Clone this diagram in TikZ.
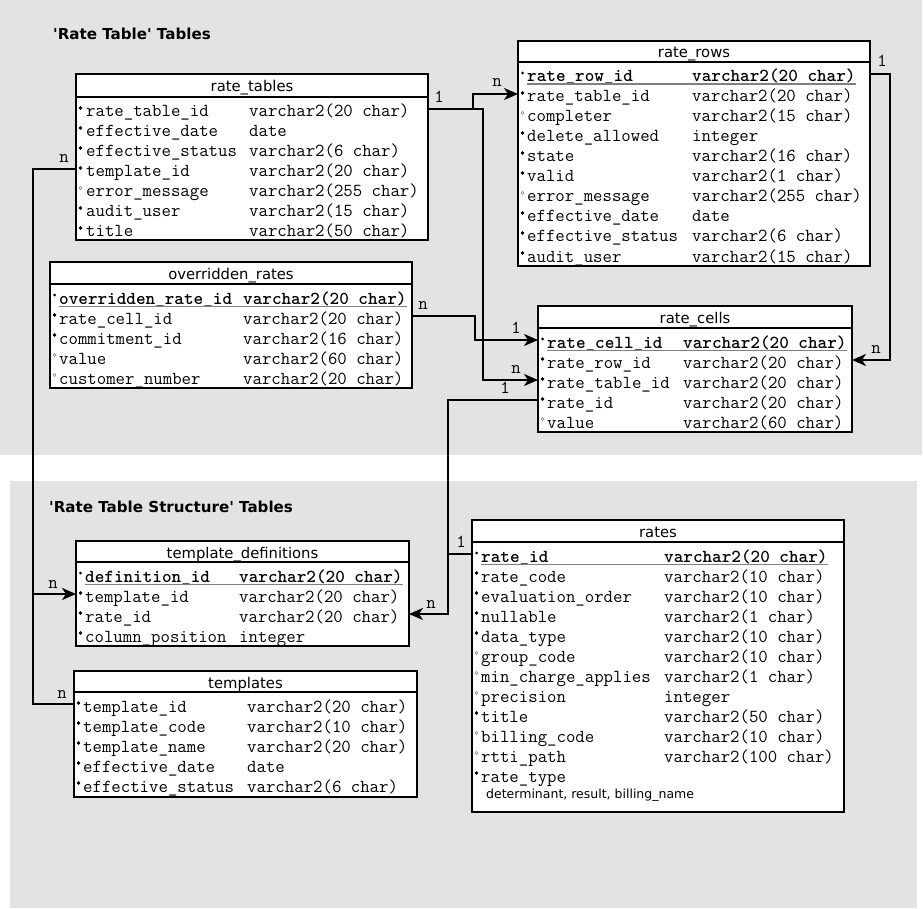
\documentclass[tikz,border=0pt]{standalone}
\usepackage{fontspec}
\setmainfont{DejaVu Sans}
\usepackage{tikz}
\usetikzlibrary{arrows.meta,positioning}
\definecolor{panelgray}{RGB}{227,227,227}
\newcommand{\fieldfont}{\fontsize{18.3}{20}\selectfont\ttfamily}

\begin{document}
\begin{tikzpicture}[x=1pt,y=-1pt]
\tikzset{
    tblhead/.style={draw, line width=1.8pt, fill=white, anchor=north west,
                    inner sep=0pt, outer sep=0pt, font=\fontsize{14.8}{16}\selectfont,
                    text height=13pt, text depth=0pt},
    tblbody/.style={draw, line width=1.8pt, fill=white, anchor=north west,
                    inner sep=0pt, outer sep=0pt},
    fld/.style={anchor=west, inner sep=0pt, text height=18pt, text depth=2pt,
                font=\fieldfont},
    keyfld/.style={fld, font=\fieldfont\bfseries},
    keyline/.style={draw=black!50, line width=1.4pt},
    dot/.style={circle, inner sep=0pt, minimum size=3pt, line width=0.5pt},
    heading/.style={anchor=base west, inner sep=0pt,
                    font=\fontsize{15.1}{18}\selectfont\bfseries},
    note/.style={anchor=base west, inner sep=0pt, font=\fontsize{12.5}{14}\selectfont},
    conn/.style={line width=2pt},
    arr/.style={-{Stealth[length=14pt,width=12pt,inset=4pt]}},
    card/.style={anchor=base, inner sep=0pt, font=\fieldfont}
}
\useasboundingbox (0,0) rectangle (923,909);

% panels
\fill[panelgray] (0,0) rectangle (922,455);
\fill[panelgray] (10,481) rectangle (917,908);
\node[heading] (hd1) at (53,40) {\textquotesingle Rate Table\textquotesingle{} Tables};
\node[heading] (hd2) at (49,512) {\textquotesingle Rate Table Structure\textquotesingle{} Tables};

% rate_tables
\node[tblhead, minimum width=352, minimum height=23] (rtab) at (76,74) {rate\_tables};
\node[tblbody, minimum width=352, minimum height=143] (rtab-b) at (rtab.south west) {};
\foreach \f/\t/\m [count=\i] in {rate\_table\_id/varchar2(20 char)/black,
    effective\_date/date/black, effective\_status/varchar2(6 char)/black,
    template\_id/varchar2(20 char)/black, error\_message/varchar2(255 char)/white,
    audit\_user/varchar2(15 char)/black, title/varchar2(50 char)/black}{
  \node[dot, fill=\m, draw=\m!50!black] (rtab\i-d) at (80.5,88+20*\i) {};
  \node[fld] (rtab\i) at (86,89+20*\i) {\f};
  \node[fld] (rtab\i-t) at (249,89+20*\i) {\t};
}

% rate_rows
\node[tblhead, minimum width=352, minimum height=21] (rrow) at (518,41) {rate\_rows};
\node[tblbody, minimum width=352, minimum height=204] (rrow-b) at (rrow.south west) {};
\node[dot, fill=black] (rrow1-d) at (522.5,73) {};
\node[keyfld] (rrow1) at (527,74) {rate\_row\_id};
\node[keyfld] (rrow1-t) at (692,74) {varchar2(20 char)};
\draw[keyline] (rrow1.south west) -- (rrow1-t.south east);
\foreach \f/\t/\m [count=\i from 2] in {rate\_table\_id/varchar2(20 char)/black,
    completer/varchar2(15 char)/white, delete\_allowed/integer/black,
    state/varchar2(16 char)/black, valid/varchar2(1 char)/black,
    error\_message/varchar2(255 char)/white, effective\_date/date/black,
    effective\_status/varchar2(6 char)/black, audit\_user/varchar2(15 char)/black}{
  \node[dot, fill=\m, draw=\m!50!black] (rrow\i-d) at (522.5,53+20*\i) {};
  \node[fld] (rrow\i) at (527,54+20*\i) {\f};
  \node[fld] (rrow\i-t) at (692,54+20*\i) {\t};
}

% overridden_rates
\node[tblhead, minimum width=362, minimum height=22] (orate) at (50,262) {overridden\_rates};
\node[tblbody, minimum width=362, minimum height=104] (orate-b) at (orate.south west) {};
\node[dot, fill=black] (orate1-d) at (54.5,295) {};
\node[keyfld] (orate1) at (59,296) {overridden\_rate\_id};
\node[keyfld] (orate1-t) at (243,296) {varchar2(20 char)};
\draw[keyline] (orate1.south west) -- (orate1-t.south east);
\foreach \f/\t/\m [count=\i from 2] in {rate\_cell\_id/varchar2(20 char)/black,
    commitment\_id/varchar2(16 char)/black, value/varchar2(60 char)/white,
    customer\_number/varchar2(20 char)/white}{
  \node[dot, fill=\m, draw=\m!50!black] (orate\i-d) at (54.5,275+20*\i) {};
  \node[fld] (orate\i) at (59,276+20*\i) {\f};
  \node[fld] (orate\i-t) at (243,276+20*\i) {\t};
}

% rate_cells
\node[tblhead, minimum width=314, minimum height=22] (rcell) at (538,306) {rate\_cells};
\node[tblbody, minimum width=314, minimum height=104] (rcell-b) at (rcell.south west) {};
\node[dot, fill=black] (rcell1-d) at (542.5,339) {};
\node[keyfld] (rcell1) at (547,340) {rate\_cell\_id};
\node[keyfld] (rcell1-t) at (683,340) {varchar2(20 char)};
\draw[keyline] (rcell1.south west) -- (rcell1-t.south east);
\foreach \f/\t/\m [count=\i from 2] in {rate\_row\_id/varchar2(20 char)/black,
    rate\_table\_id/varchar2(20 char)/black, rate\_id/varchar2(20 char)/black,
    value/varchar2(60 char)/white}{
  \node[dot, fill=\m, draw=\m!50!black] (rcell\i-d) at (542.5,319+20*\i) {};
  \node[fld] (rcell\i) at (547,320+20*\i) {\f};
  \node[fld] (rcell\i-t) at (683,320+20*\i) {\t};
}

% template_definitions
\node[tblhead, minimum width=333, minimum height=21] (tdef) at (76,541) {template\_definitions};
\node[tblbody, minimum width=333, minimum height=84] (tdef-b) at (tdef.south west) {};
\node[dot, fill=black] (tdef1-d) at (80.5,573) {};
\node[keyfld] (tdef1) at (85,574) {definition\_id};
\node[keyfld] (tdef1-t) at (239,574) {varchar2(20 char)};
\draw[keyline] (tdef1.south west) -- (tdef1-t.south east);
\foreach \f/\t/\m [count=\i from 2] in {template\_id/varchar2(20 char)/black,
    rate\_id/varchar2(20 char)/black, column\_position/integer/black}{
  \node[dot, fill=\m, draw=\m!50!black] (tdef\i-d) at (80.5,553+20*\i) {};
  \node[fld] (tdef\i) at (85,554+20*\i) {\f};
  \node[fld] (tdef\i-t) at (239,554+20*\i) {\t};
}

% templates
\node[tblhead, minimum width=343, minimum height=21] (tmpl) at (74,671) {templates};
\node[tblbody, minimum width=343, minimum height=105] (tmpl-b) at (tmpl.south west) {};
\foreach \f/\t/\m [count=\i] in {template\_id/varchar2(20 char)/black,
    template\_code/varchar2(10 char)/black, template\_name/varchar2(20 char)/black,
    effective\_date/date/black, effective\_status/varchar2(6 char)/black}{
  \node[dot, fill=\m, draw=\m!50!black] (tmpl\i-d) at (78.5,683+20*\i) {};
  \node[fld] (tmpl\i) at (83,684+20*\i) {\f};
  \node[fld] (tmpl\i-t) at (247,684+20*\i) {\t};
}

% rates
\node[tblhead, minimum width=372, minimum height=22] (rate) at (472,520) {rates};
\node[tblbody, minimum width=372, minimum height=270] (rate-b) at (rate.south west) {};
\node[dot, fill=black] (rate1-d) at (476.5,553) {};
\node[keyfld] (rate1) at (481,554) {rate\_id};
\node[keyfld] (rate1-t) at (664,554) {varchar2(20 char)};
\draw[keyline] (rate1.south west) -- (rate1-t.south east);
\foreach \f/\t/\m [count=\i from 2] in {rate\_code/varchar2(10 char)/black,
    evaluation\_order/varchar2(10 char)/black, nullable/varchar2(1 char)/black,
    data\_type/varchar2(10 char)/black, group\_code/varchar2(10 char)/white,
    min\_charge\_applies/varchar2(1 char)/white, precision/integer/white,
    title/varchar2(50 char)/black, billing\_code/varchar2(10 char)/white,
    rtti\_path/varchar2(100 char)/white, rate\_type//black}{
  \node[dot, fill=\m, draw=\m!50!black] (rate\i-d) at (476.5,533+20*\i) {};
  \node[fld] (rate\i) at (481,534+20*\i) {\f};
  \node[fld] (rate\i-t) at (664,534+20*\i) {\t};
}
\node[note] (rate-note) at (486,798) {determinant, result, billing\_name};

% connectors
\draw[conn, arr] (rtab-b.east |- rtab1) node[card, xshift=11pt, yshift=6pt] (c1) {1}
    -- ++(45,0) |- (rrow-b.west |- rrow2) node[card, xshift=-21pt, yshift=7pt] (c2) {n};
\draw[conn, arr] (rtab-b.east |- rtab1) -- ++(55,0) |- (rcell-b.west |- rcell3)
    node[card, xshift=-22pt, yshift=7pt] (c3) {n};
\draw[conn, arr] (orate-b.east |- orate2) node[card, xshift=11pt, yshift=7pt] (c4) {n}
    -- ++(63,0) |- (rcell-b.west |- rcell1) node[card, xshift=-22pt, yshift=7pt] (c5) {1};
\draw[conn, arr] (rrow-b.east |- rrow1) node[card, xshift=12pt, yshift=7pt] (c6) {1}
    -- ++(20,0) |- (rcell-b.east |- rcell2) node[card, xshift=24pt, yshift=7pt] (c7) {n};
\draw[conn] (rcell-b.west |- rcell4) node[card, xshift=-33pt, yshift=7pt] (c8) {1}
    -- ++(-90,0) |- (rate-b.west |- rate1) node[card, xshift=-11pt, yshift=7pt] (c9) {1};
\draw[conn, arr] (rate-b.west |- rate1) -- ++(-24,0) |- (tdef-b.east |- tdef3)
    node[card, xshift=22pt, yshift=6pt] (c10) {n};
\draw[conn, arr] (rtab-b.west |- rtab4) node[card, xshift=-12pt, yshift=6pt] (c11) {n}
    -- ++(-43,0) |- (tdef-b.west |- tdef2) node[card, xshift=-23pt, yshift=6pt] (c12) {n};
\draw[conn] (rtab-b.west |- rtab4) -- ++(-43,0) |- (tmpl-b.west |- tmpl1)
    node[card, xshift=-12pt, yshift=6pt] (c13) {n};
\end{tikzpicture}
\end{document}
